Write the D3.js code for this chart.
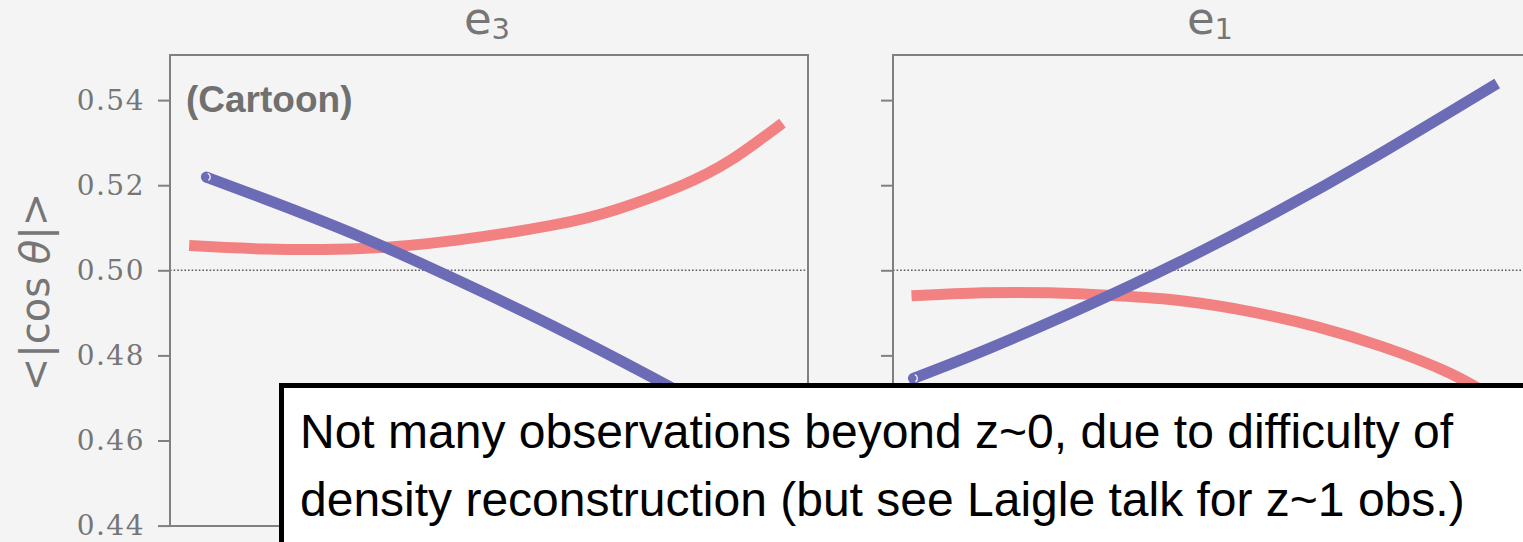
<!DOCTYPE html>
<html>
<head>
<meta charset="utf-8">
<script src="https://cdn.jsdelivr.net/npm/d3@7"></script>
<style>
  html, body { margin: 0; padding: 0; background: #f4f4f4; }
  svg { display: block; }
</style>
</head>
<body>
<svg id="chart" width="1523" height="542"></svg>
<script>
// ---- data -------------------------------------------------------------
// panel titles (subscripts of e)
const panelTitles = ["3", "1"];
// y ticks
const yTicks = [0.44, 0.46, 0.48, 0.50, 0.52, 0.54];
const yDomain = [0.4399, 0.5506];
const refLevel = 0.50;

// e3 panel, red curve
const e3RedX = [0.03, 0.15, 0.30, 0.45, 0.60, 0.70, 0.80, 0.88, 0.96];
const e3RedY = [0.5058, 0.5050, 0.5051, 0.5071, 0.5106, 0.5143, 0.5198, 0.5260, 0.5346];
// e3 panel, blue curve
const e3BlueX = [0.057, 0.15, 0.30, 0.45, 0.60, 0.75, 0.85, 0.96];
const e3BlueY = [0.5219, 0.5167, 0.5078, 0.4977, 0.4869, 0.4753, 0.4671, 0.4575];

// e1 panel, red curve
const e1RedX = [0.029, 0.141, 0.246, 0.351, 0.455, 0.560, 0.665, 0.768, 0.873, 0.951];
const e1RedY = [0.4940, 0.4947, 0.4947, 0.4940, 0.4928, 0.4903, 0.4867, 0.4820, 0.4758, 0.4692];
// e1 panel, blue curve
const e1BlueX = [0.032, 0.15, 0.30, 0.45, 0.60, 0.75, 0.947];
const e1BlueY = [0.4746, 0.4816, 0.4914, 0.5020, 0.5136, 0.5262, 0.5439];

const noteLines = [
  "Not many observations beyond z~0, due to difficulty of",
  "density reconstruction (but see Laigle talk for z~1 obs.)"
];

// ---- layout -----------------------------------------------------------
const panelW = 638, plotTop = 55, plotBottom = 526;
const panelLeft = [170, 893];
const red = "#f28282", blue = "#6c6cb6", gray = "#767676", spine = "#808080";

const svg = d3.select("#chart");
svg.append("rect").attr("width", 1523).attr("height", 542).attr("fill", "#f4f4f4");

const x = d3.scaleLinear().domain([0, 1]).range([0, panelW]);
const y = d3.scaleLinear().domain(yDomain).range([plotBottom - plotTop, 0]);

const line = d3.line()
  .x(d => x(d[0]))
  .y(d => y(d[1]))
  .curve(d3.curveNatural);

const panels = [
  { sub: panelTitles[0], red: d3.zip(e3RedX, e3RedY), blue: d3.zip(e3BlueX, e3BlueY), labels: true },
  { sub: panelTitles[1], red: d3.zip(e1RedX, e1RedY), blue: d3.zip(e1BlueX, e1BlueY), labels: false }
];

panels.forEach((p, i) => {
  const g = svg.append("g").attr("transform", `translate(${panelLeft[i]},${plotTop})`);

  // reference level
  g.append("line")
    .attr("x1", 0).attr("x2", panelW)
    .attr("y1", y(refLevel)).attr("y2", y(refLevel))
    .attr("stroke", "#5a5a5a").attr("stroke-width", 1.6)
    .attr("stroke-dasharray", "1.6,2");

  // curves
  g.append("path").datum(p.red)
    .attr("d", line).attr("fill", "none")
    .attr("stroke", red).attr("stroke-width", 11);
  g.append("path").datum(p.blue)
    .attr("d", line).attr("fill", "none")
    .attr("stroke", blue).attr("stroke-width", 11);

  // rounded start of the blue curve with its thin light rim
  const bx = x(p.blue[0][0]), by = y(p.blue[0][1]);
  g.append("circle").attr("cx", bx).attr("cy", by).attr("r", 5.5).attr("fill", blue);
  g.append("path")
    .attr("transform", `translate(${bx},${by})`)
    .attr("d", d3.arc()({ innerRadius: 3.2, outerRadius: 4.6, startAngle: 0.35, endAngle: 2.6 }))
    .attr("fill", "#ffffff").attr("opacity", 0.9);

  // frame
  g.append("rect")
    .attr("x", 0).attr("y", 0)
    .attr("width", panelW).attr("height", plotBottom - plotTop)
    .attr("fill", "none").attr("stroke", spine).attr("stroke-width", 2);

  // y axis
  const axis = d3.axisLeft(y).tickValues(yTicks).tickSize(12).tickPadding(13)
    .tickFormat(p.labels ? d3.format(".2f") : "");
  const ag = g.append("g").call(axis);
  ag.select(".domain").remove();
  ag.selectAll(".tick line").attr("stroke", spine).attr("stroke-width", 2);
  ag.selectAll(".tick text")
    .attr("fill", gray)
    .style("font-family", "'DejaVu Serif', serif")
    .style("font-size", "28px")
    .style("letter-spacing", "1.5px");

  // title e_n
  const t = svg.append("text")
    .attr("x", panelLeft[i] + panelW / 2 - 2).attr("y", 34)
    .attr("text-anchor", "middle")
    .attr("fill", gray)
    .style("font-family", "'DejaVu Sans', sans-serif")
    .style("font-size", "45px");
  t.append("tspan").text("e");
  t.append("tspan").attr("dy", 5).style("font-size", "29px").text(p.sub);
});

// corner label
svg.append("text")
  .attr("x", 186).attr("y", 112)
  .attr("fill", "#707070")
  .style("font-family", "'Liberation Sans', Arial, sans-serif")
  .style("font-weight", "bold")
  .style("font-size", "37px")
  .text("(Cartoon)");

// y axis label
const yl = svg.append("text")
  .attr("transform", "translate(49,292) rotate(-90)")
  .attr("text-anchor", "middle")
  .attr("fill", gray)
  .style("font-family", "'DejaVu Sans', sans-serif")
  .style("font-size", "40px");
yl.append("tspan").text("<|cos ");
yl.append("tspan").style("font-style", "italic").text("θ");
yl.append("tspan").text("|>");

// note box
svg.append("rect")
  .attr("x", 281.5).attr("y", 385.5)
  .attr("width", 1400).attr("height", 300)
  .attr("fill", "#ffffff").attr("stroke", "#000000").attr("stroke-width", 5);

svg.selectAll("text.note").data(noteLines).enter().append("text")
  .attr("class", "note")
  .attr("x", 300).attr("y", (d, i) => 448 + i * 68)
  .attr("fill", "#000000")
  .style("font-family", "'Liberation Sans', Arial, sans-serif")
  .style("font-size", "48px")
  .text(d => d);
</script>
</body>
</html>
